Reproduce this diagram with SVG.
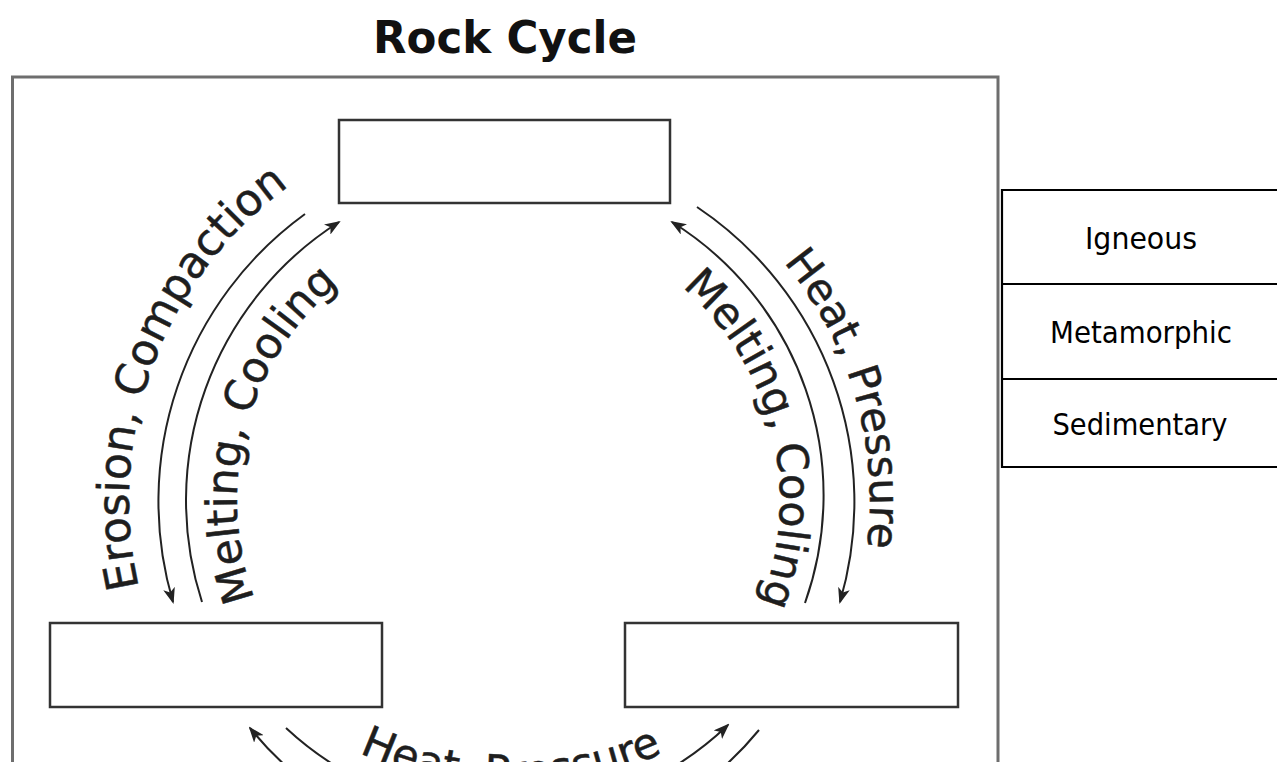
<svg xmlns="http://www.w3.org/2000/svg" width="1277" height="762" viewBox="0 0 1277 762">
  <style>
    .frame { fill: none; stroke: #6e6e6e; stroke-width: 3; }
    .box { fill: #ffffff; stroke: #333333; stroke-width: 2.5; }
    .arc { fill: none; stroke: #222222; stroke-width: 2; }
    .lbl { font-family: "DejaVu Sans", Verdana, sans-serif; font-size: 43px; fill: #1e1e1e; stroke: #1e1e1e; stroke-width: 0.5; }
    .big { font-size: 44px; }
    .small { font-size: 42px; }
    .title { font-family: "DejaVu Sans", Tahoma, sans-serif; font-weight: bold; font-size: 44px; fill: #111111; }
    .tline { stroke: #000000; stroke-width: 2.2; fill: none; }
    .ttxt { font-family: "DejaVu Sans", Tahoma, sans-serif; font-size: 31px; fill: #000000; text-anchor: middle; }
  </style>
  <defs>
    <marker id="ah" viewBox="0 0 16 12" markerWidth="16" markerHeight="12" refX="14" refY="6" orient="auto" markerUnits="userSpaceOnUse">
      <path d="M0,0 L16,6 L0,12 L4,6 z" fill="#222222"/>
    </marker>
    <path id="p-eros" d="M138.9,587.3 A388,388 0 0 1 384.3,135.4"/>
    <path id="p-melt-l" d="M254.9,598.5 A280,280 0 0 1 377,257.5"/>
    <path id="p-heat-r" d="M783.4,262.2 A370,370 0 0 1 820.4,685"/>
    <path id="p-melt-r" d="M681.8,287.1 A280,280 0 0 1 742.5,640"/>
    <path id="p-heat-b" d="M254.3,679.7 A363,363 0 0 0 767.7,679.7"/>
  </defs>
  <rect width="1277" height="762" fill="#ffffff"/>

  <text class="title" x="505" y="53" text-anchor="middle" textLength="264" lengthAdjust="spacingAndGlyphs">Rock Cycle</text>

  <path class="frame" d="M12.5,775 V77 H998 V775"/>

  <g id="node-top"><rect class="box" x="339" y="120" width="331" height="83"/></g>
  <g id="node-left"><rect class="box" x="50" y="623" width="332" height="84"/></g>
  <g id="node-right"><rect class="box" x="625" y="623" width="333" height="84"/></g>

  <g id="connectors">
    <path class="arc" d="M305,214 A355,355 0 0 0 173,602" marker-end="url(#ah)"/>
    <path class="arc" d="M202,602 A330,330 0 0 1 339,222" marker-end="url(#ah)"/>
    <path class="arc" d="M697,207 A355,355 0 0 1 840,602" marker-end="url(#ah)"/>
    <path class="arc" d="M805,603 A322,322 0 0 0 672,222" marker-end="url(#ah)"/>
    <path class="arc" d="M759,730 A328,328 0 0 1 250,728" marker-end="url(#ah)"/>
    <path class="arc" d="M286,728 A322,322 0 0 0 728,725" marker-end="url(#ah)"/>
  </g>

  <g id="labels">
    <text class="lbl big"><textPath href="#p-eros">Erosion, Compaction</textPath></text>
    <text class="lbl"><textPath href="#p-melt-l">Melting, Cooling</textPath></text>
    <text class="lbl small"><textPath href="#p-heat-r">Heat, Pressure</textPath></text>
    <text class="lbl"><textPath href="#p-melt-r">Melting, Cooling</textPath></text>
    <text class="lbl" text-anchor="middle"><textPath href="#p-heat-b" startOffset="50%">Heat, Pressure</textPath></text>
  </g>

  <g id="legend">
    <path class="tline" d="M1002,190 H1277 M1002,284 H1277 M1002,379 H1277 M1002,467 H1277 M1002,189 V468"/>
    <g id="row-igneous"><text class="ttxt" x="1141" y="249" textLength="112" lengthAdjust="spacingAndGlyphs">Igneous</text></g>
    <g id="row-metamorphic"><text class="ttxt" x="1141" y="343" textLength="182" lengthAdjust="spacingAndGlyphs">Metamorphic</text></g>
    <g id="row-sedimentary"><text class="ttxt" x="1140" y="435" textLength="175" lengthAdjust="spacingAndGlyphs">Sedimentary</text></g>
  </g>
</svg>
